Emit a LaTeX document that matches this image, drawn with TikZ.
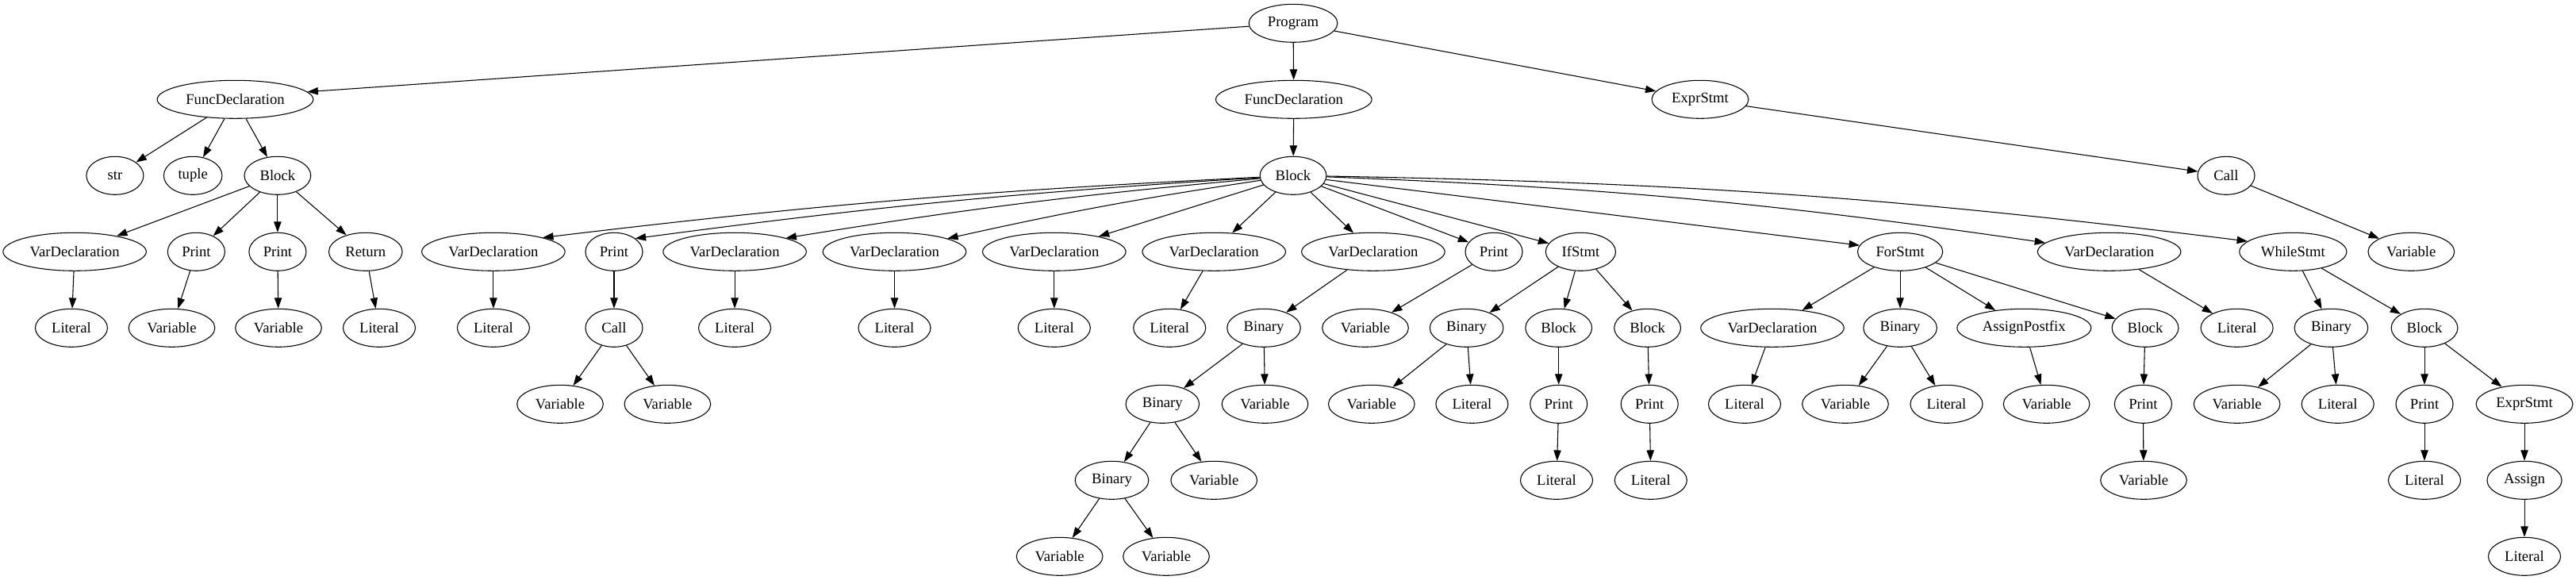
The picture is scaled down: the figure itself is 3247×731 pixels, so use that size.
\documentclass[tikz,border=0pt]{standalone}
\usepackage{fontspec}
\setmainfont{Liberation Serif}
\usetikzlibrary{shapes.geometric,arrows.meta}
\begin{document}
\begin{tikzpicture}[x=0.75pt,y=-0.75pt,
  n/.style={draw, ellipse, inner xsep=5.5pt, inner ysep=0pt, minimum height=36pt, minimum width=54pt, line width=0.8pt, font=\fontsize{14}{16}\selectfont},
  e/.style={line width=0.8pt, -{Triangle[length=10pt,width=7pt]}},
  lb/.style={e, bend right=2},
  rb/.style={e, bend left=3}]
\useasboundingbox (0,0) rectangle (3247,731);
\def\yA{29.3}\def\yB{125.3}\def\yC{221.3}\def\yD{317.3}\def\yE{413.3}\def\yF{509.3}\def\yG{605.3}\def\yH{701.3}
% level 0
\node[n] (prog) at (1630,\yA) {Program};
% level 1
\node[n] (fd1) at (296.5,\yB) {FuncDeclaration};
\node[n] (fd2) at (1630.8,\yB) {FuncDeclaration};
\node[n] (es1) at (2143,\yB) {ExprStmt};
% level 2
\node[n] (str) at (144.9,\yC) {str};
\node[n] (tup) at (243.2,\yC) {tuple};
\node[n] (blk1) at (349.9,\yC) {Block};
\node[n] (blk2) at (1630,\yC) {Block};
\node[n] (call1) at (2806,\yC) {Call};
% level 3
\node[n] (vd1) at (94.1,\yD) {VarDeclaration};
\node[n] (pr1) at (247.4,\yD) {Print};
\node[n] (pr2) at (349.9,\yD) {Print};
\node[n] (ret) at (460.8,\yD) {Return};
\node[n] (vd2) at (621.9,\yD) {VarDeclaration};
\node[n] (pr3) at (774,\yD) {Print};
\node[n] (vd3) at (926.1,\yD) {VarDeclaration};
\node[n] (vd4) at (1127.5,\yD) {VarDeclaration};
\node[n] (vd5) at (1328.8,\yD) {VarDeclaration};
\node[n] (vd6) at (1530.2,\yD) {VarDeclaration};
\node[n] (vd7) at (1730.9,\yD) {VarDeclaration};
\node[n] (pr4) at (1883,\yD) {Print};
\node[n] (if1) at (1992.4,\yD) {IfStmt};
\node[n] (for1) at (2395.1,\yD) {ForStmt};
\node[n] (vd8) at (2658.6,\yD) {VarDeclaration};
\node[n] (wh1) at (2890.3,\yD) {WhileStmt};
\node[n] (var1) at (3039.3,\yD) {Variable};
% level 4
\node[n] (lit1) at (90,\yE) {Literal};
\node[n] (var2) at (216.5,\yE) {Variable};
\node[n] (var3) at (351,\yE) {Variable};
\node[n] (lit2) at (478,\yE) {Literal};
\node[n] (lit3) at (621.9,\yE) {Literal};
\node[n] (call2) at (774,\yE) {Call};
\node[n] (lit4) at (926.1,\yE) {Literal};
\node[n] (lit5) at (1127.5,\yE) {Literal};
\node[n] (lit6) at (1328.8,\yE) {Literal};
\node[n] (lit7) at (1474.2,\yE) {Literal};
\node[n] (bin1) at (1593,\yE) {Binary};
\node[n] (var4) at (1721,\yE) {Variable};
\node[n] (bin2) at (1848.6,\yE) {Binary};
\node[n] (blk3) at (1964.7,\yE) {Block};
\node[n] (blk4) at (2076.6,\yE) {Block};
\node[n] (vd9) at (2234,\yE) {VarDeclaration};
\node[n] (bin3) at (2395.1,\yE) {Binary};
\node[n] (ap1) at (2551.3,\yE) {AssignPostfix};
\node[n] (blk5) at (2704,\yE) {Block};
\node[n] (lit8) at (2819.6,\yE) {Literal};
\node[n] (bin4) at (2938.4,\yE) {Binary};
\node[n] (blk6) at (3056,\yE) {Block};
% level 5
\node[n] (var5) at (706,\yF) {Variable};
\node[n] (var6) at (841.4,\yF) {Variable};
\node[n] (bin5) at (1465.3,\yF) {Binary};
\node[n] (var7) at (1594.5,\yF) {Variable};
\node[n] (var8) at (1728.8,\yF) {Variable};
\node[n] (lit9) at (1855.4,\yF) {Literal};
\node[n] (pr5) at (1964.7,\yF) {Print};
\node[n] (pr6) at (2079.2,\yF) {Print};
\node[n] (lit10) at (2199,\yF) {Literal};
\node[n] (var9) at (2326,\yF) {Variable};
\node[n] (lit11) at (2453.5,\yF) {Literal};
\node[n] (var10) at (2579.6,\yF) {Variable};
\node[n] (pr7) at (2701.4,\yF) {Print};
\node[n] (var11) at (2819.6,\yF) {Variable};
\node[n] (lit12) at (2946.7,\yF) {Literal};
\node[n] (pr8) at (3056,\yF) {Print};
\node[n] (es2) at (3182,\yF) {ExprStmt};
% level 6
\node[n] (bin6) at (1401.5,\yG) {Binary};
\node[n] (var12) at (1530.2,\yG) {Variable};
\node[n] (lit13) at (1962,\yG) {Literal};
\node[n] (lit14) at (2080.8,\yG) {Literal};
\node[n] (var13) at (2702,\yG) {Variable};
\node[n] (lit15) at (3056,\yG) {Literal};
\node[n] (asg) at (3182,\yG) {Assign};
% level 7
\node[n] (var14) at (1335.6,\yH) {Variable};
\node[n] (var15) at (1470,\yH) {Variable};
\node[n] (lit16) at (3182,\yH) {Literal};
% edges
\draw[e] (prog) -- (fd1.6);
\draw[e] (prog) -- (fd2);
\draw[e] (prog) -- (es1);
\draw[e] (fd1) -- (str);
\draw[e] (fd1) -- (tup);
\draw[e] (fd1) -- (blk1);
\draw[e] (blk1) -- (vd1);
\draw[e] (blk1) -- (pr1);
\draw[e] (blk1) -- (pr2);
\draw[e] (blk1) -- (ret);
\draw[e] (vd1) -- (lit1);
\draw[e] (pr1) -- (var2);
\draw[e] (pr2) -- (var3);
\draw[e] (ret) -- (lit2);
\draw[e] (fd2) -- (blk2);
\draw[lb] (blk2) to (vd2.16);
\draw[lb] (blk2) to (pr3.32);
\draw[lb] (blk2) to (vd3.15);
\draw[lb] (blk2) to (vd4.14);
\draw[e] (blk2) -- (vd5.19);
\draw[e] (blk2) -- (vd6.46);
\draw[e] (blk2) -- (vd7);
\draw[e] (blk2) -- (pr4);
\draw[e] (blk2) -- (if1);
\draw[e] (blk2) -- (for1.171);
\draw[rb] (blk2) to (vd8.172);
\draw[rb] (blk2) to (wh1.167);
\draw[e] (es1) -- (call1);
\draw[e] (call1) -- (var1);
\draw[e] (vd2) -- (lit3);
\draw[e] (pr3) -- (call2);
\draw[e] (vd3) -- (lit4);
\draw[e] (vd4) -- (lit5);
\draw[e] (vd5) -- (lit6);
\draw[e] (vd6) -- (lit7);
\draw[e] (vd7) -- (bin1);
\draw[e] (pr4) -- (var4);
\draw[e] (if1) -- (bin2);
\draw[e] (if1) -- (blk3);
\draw[e] (if1) -- (blk4);
\draw[e] (for1) -- (vd9);
\draw[e] (for1) -- (bin3);
\draw[e] (for1) -- (ap1);
\draw[e] (for1) -- (blk5);
\draw[e] (vd8) -- (lit8);
\draw[e] (wh1) -- (bin4);
\draw[e] (wh1) -- (blk6);
\draw[e] (call2) -- (var5);
\draw[e] (call2) -- (var6);
\draw[e] (bin1) -- (bin5);
\draw[e] (bin1) -- (var7);
\draw[e] (bin2) -- (var8);
\draw[e] (bin2) -- (lit9);
\draw[e] (blk3) -- (pr5);
\draw[e] (blk4) -- (pr6);
\draw[e] (vd9) -- (lit10);
\draw[e] (bin3) -- (var9);
\draw[e] (bin3) -- (lit11);
\draw[e] (ap1) -- (var10);
\draw[e] (blk5) -- (pr7);
\draw[e] (bin4) -- (var11);
\draw[e] (bin4) -- (lit12);
\draw[e] (blk6) -- (pr8);
\draw[e] (blk6) -- (es2);
\draw[e] (bin5) -- (bin6);
\draw[e] (bin5) -- (var12);
\draw[e] (pr5) -- (lit13);
\draw[e] (pr6) -- (lit14);
\draw[e] (pr7) -- (var13);
\draw[e] (pr8) -- (lit15);
\draw[e] (es2) -- (asg);
\draw[e] (bin6) -- (var14);
\draw[e] (bin6) -- (var15);
\draw[e] (asg) -- (lit16);
\end{tikzpicture}
\end{document}
